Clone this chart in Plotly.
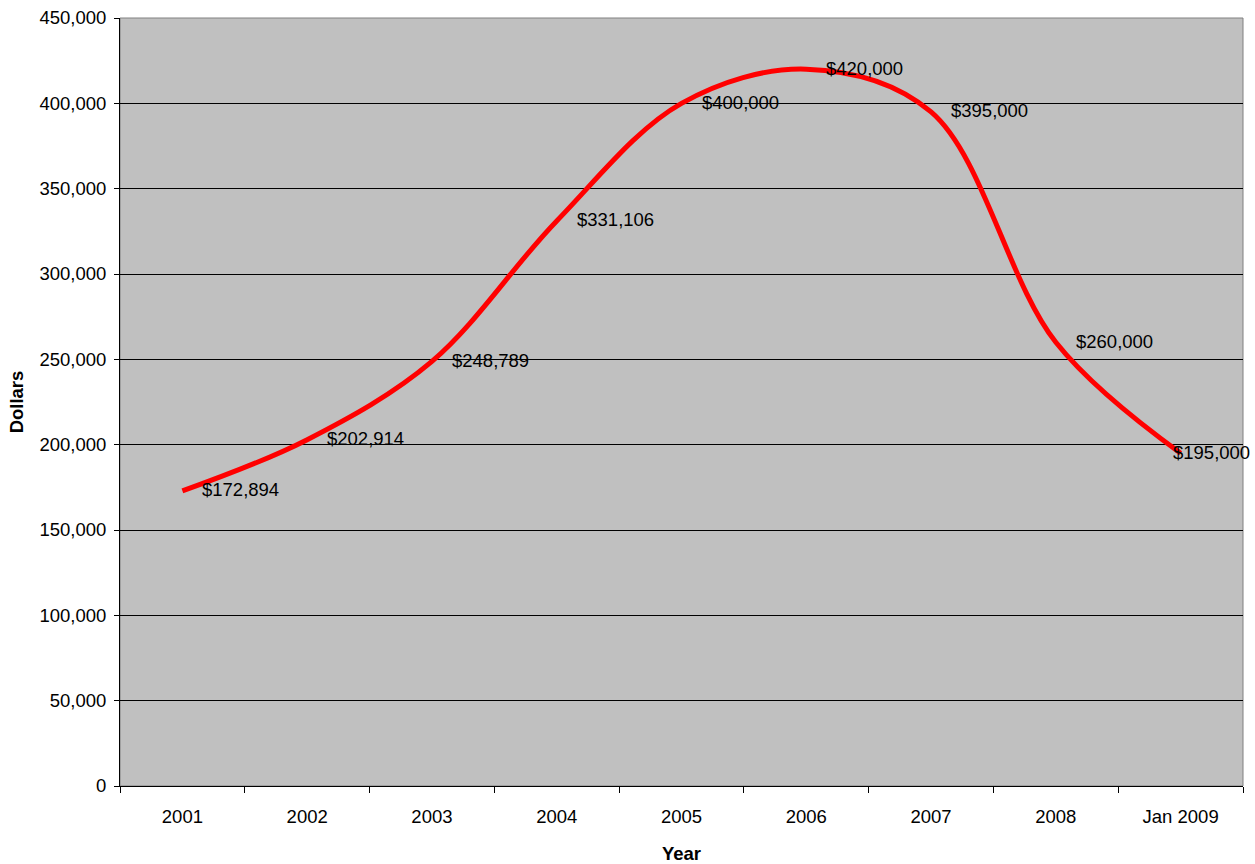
import plotly.graph_objects as go

years = ["2001", "2002", "2003", "2004", "2005", "2006", "2007", "2008", "Jan 2009"]
prices = [172894, 202914, 248789, 331106, 400000, 420000, 395000, 260000, 195000]
labels = ["$172,894", "$202,914", "$248,789", "$331,106", "$400,000", "$420,000", "$395,000", "$260,000", "$195,000"]
y_ticks = list(range(0, 450001, 50000))
y_tick_text = ["{:,}".format(v) for v in y_ticks]

FONT = "Liberation Sans, Arial"
FS = 18.5

fig = go.Figure()
fig.add_trace(go.Scatter(
    x=years, y=prices, mode="lines",
    line=dict(color="#FF0000", width=5, shape="spline", smoothing=1.0),
    showlegend=False, hoverinfo="skip",
))

shifts = [18, 18, 18, 18, 18, 18, 18, 18, -10]
for i, (yv, t, s) in enumerate(zip(prices, labels, shifts)):
    fig.add_annotation(x=i, y=yv, text=t, showarrow=False, xanchor="left",
                       yanchor="middle", xshift=s, yshift=1,
                       font=dict(family=FONT, size=FS, color="black"))

fig.update_layout(
    width=1255, height=864,
    margin=dict(l=120, r=12, t=18, b=78),
    paper_bgcolor="white", plot_bgcolor="#C0C0C0",
    font=dict(family=FONT, size=FS, color="black"),
    xaxis=dict(
        type="category", tickson="boundaries", ticks="outside", ticklen=6,
        tickcolor="black", showline=True, linecolor="black", linewidth=1,
        showgrid=False, mirror=False, ticklabelstandoff=14, automargin=False,
        title=dict(text="<b>Year</b>", font=dict(size=FS), standoff=22),
        range=[-0.5, 8.5],
    ),
    yaxis=dict(
        range=[0, 450000], tickvals=y_ticks, ticktext=y_tick_text,
        ticks="outside", ticklen=5, tickcolor="black",
        showline=True, linecolor="black", linewidth=1,
        showgrid=True, gridcolor="black", gridwidth=1,
        zeroline=False, ticklabelstandoff=4, automargin=False,
        title=dict(text="<b>Dollars</b>", font=dict(size=FS), standoff=10),
    ),
)
# gray frame on top/right
fig.add_shape(type="rect", xref="paper", yref="paper", x0=0, x1=1, y0=0, y1=1,
              line=dict(color="#808080", width=1), layer="below")

fig.write_html("out.html")
